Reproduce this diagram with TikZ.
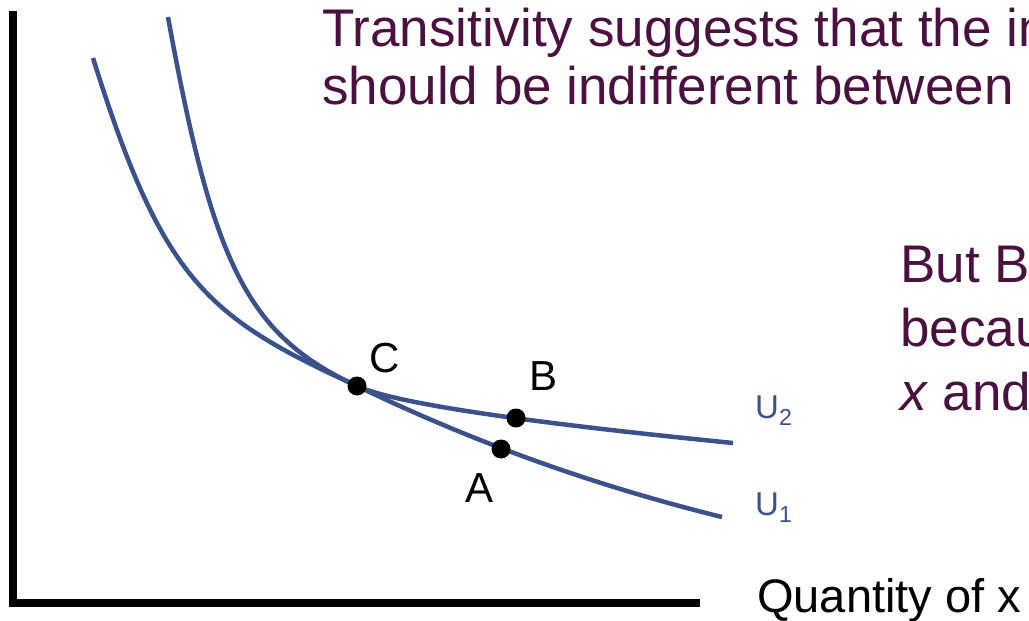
\documentclass[tikz,border=0pt]{standalone}
\usepackage{fontspec}
\setmainfont{Liberation Sans}
\definecolor{curveblue}{RGB}{59,81,140}
\definecolor{textplum}{RGB}{74,16,64}
\tikzset{
  indiff/.style={curveblue, line width=4.5pt},
  bundle/.style={circle, fill=black, inner sep=0pt, minimum size=19pt},
  axisline/.style={black, line width=7.5pt, line join=miter},
  ptlabel/.style={font=\fontsize{42}{42}\selectfont, inner sep=0pt, anchor=base west},
  ulabel/.style={curveblue, font=\fontsize{33}{33}\selectfont, inner sep=0pt, anchor=base west},
  note/.style={textplum, font=\fontsize{53}{60}\selectfont, inner sep=0pt, anchor=base west},
}
\begin{document}
\begin{tikzpicture}[x=1pt, y=-1pt]
  \useasboundingbox (0,0) rectangle (1029,621);

  % axes
  \draw[axisline] (13,11) -- (13,603) -- (700,603);
  \node[inner sep=0pt, anchor=base west, font=\fontsize{47}{47}\selectfont] (xlab) at (757,612) {Quantity of x};

  % bundles
  \coordinate (C) at (357,386);
  \coordinate (B) at (516,418);
  \coordinate (A) at (501,449);

  % indifference curves, touching at C
  \draw[indiff] (93,58) .. controls (163,282) and (207,317) .. (C)
                        .. controls (477,444) and (600,487) .. (722,517);
  \draw[indiff] (168,17) .. controls (213,265) and (247,335) .. (C)
                         .. controls (387,400) and (483,418) .. (733,443);
  \node[ulabel] (u2) at (755,418) {U\textsubscript{2}};
  \node[ulabel] (u1) at (755,515) {U\textsubscript{1}};

  \node[bundle] (dotC) at (C) {};
  \node[bundle] (dotB) at (B) {};
  \node[bundle] (dotA) at (A) {};
  \node[ptlabel] (labC) at (369,372) {C};
  \node[ptlabel] (labB) at (529,390) {B};
  \node[ptlabel] (labA) at (465,502) {A};

  % text
  \node[note] (t1) at (322,46) {Transitivity suggests that the in};
  \node[note] (t2) at (322,104) {should be indifferent between};
  \node[note] (b1) at (900,282) {But B};
  \node[note] (b2) at (900,346) {becau};
  \node[note] (b3) at (900,410) {\textit{x} and};
\end{tikzpicture}
\end{document}
